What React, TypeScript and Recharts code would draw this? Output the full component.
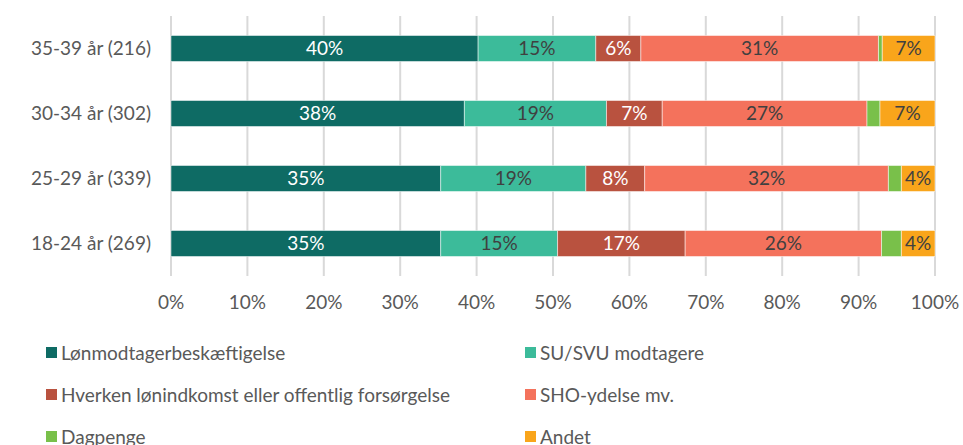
import { BarChart, Bar, XAxis, YAxis, CartesianGrid, LabelList } from "recharts"

const categories = ["35-39 år (216)", "30-34 år (302)", "25-29 år (339)", "18-24 år (269)"]
const loen = [40.2, 38.4, 35.3, 35.3]
const su = [15.4, 18.6, 19.0, 15.3]
const hverken = [5.9, 7.3, 7.7, 16.7]
const sho = [31.1, 26.8, 31.9, 25.7]
const dagpenge = [0.5, 1.7, 1.7, 2.6]
const andet = [6.9, 7.2, 4.4, 4.4]
const xTicks = [0, 10, 20, 30, 40, 50, 60, 70, 80, 90, 100]

const series = [
  { key: "loen", name: "Lønmodtagerbeskæftigelse", color: "#0E6B64", label: "#ffffff", values: loen },
  { key: "su", name: "SU/SVU modtagere", color: "#3CBB9A", label: "#404040", values: su },
  { key: "hverken", name: "Hverken lønindkomst eller offentlig forsørgelse", color: "#B9523F", label: "#ffffff", values: hverken },
  { key: "sho", name: "SHO-ydelse mv.", color: "#F4725C", label: "#404040", values: sho },
  { key: "dagpenge", name: "Dagpenge", color: "#79C04A", label: null, values: dagpenge },
  { key: "andet", name: "Andet", color: "#F9A51B", label: "#404040", values: andet },
]

const data = categories.map((c, i) => {
  const row: Record<string, string | number> = { cat: c }
  series.forEach((s) => (row[s.key] = s.values[i]))
  return row
})

const font = "Lato, 'Open Sans', sans-serif"

export default function App() {
  return (
    <div style={{ position: "absolute", left: 0, top: 0, width: 963, height: 445, background: "#fff", fontFamily: font }}>
      <BarChart
        width={963}
        height={330}
        data={data}
        layout="vertical"
        margin={{ top: 16, right: 28, left: 0, bottom: 14 }}
        barCategoryGap="30%"
      >
        <CartesianGrid horizontal={false} stroke="#D9D9D9" strokeWidth={2} />
        <XAxis
          type="number"
          domain={[0, 100]}
          ticks={xTicks}
          tickFormatter={(v: number) => `${v}%`}
          axisLine={false}
          tickLine={false}
          tickMargin={14}
          tick={{ fill: "#595959", fontSize: 19, fontFamily: font }}
          height={40}
        />
        <YAxis
          type="category"
          dataKey="cat"
          width={171}
          axisLine={false}
          tickLine={false}
          tickMargin={14}
          tick={{ fill: "#595959", fontSize: 19, fontFamily: font }}
        />
        {series.map((s) => (
          <Bar key={s.key} dataKey={s.key} stackId="a" fill={s.color} stroke="#ffffff" strokeWidth={0.5} isAnimationActive={false}>
            {s.label && (
              <LabelList
                dataKey={s.key}
                position="center"
                formatter={(v: number) => `${Math.round(v)}%`}
                fill={s.label}
                style={{ fontSize: 19, fontFamily: font }}
              />
            )}
          </Bar>
        ))}
      </BarChart>
      <div style={{ position: "absolute", left: 46, top: 340, width: 910, display: "grid", gridTemplateColumns: "479px 420px", rowGap: 18 }}>
        {series.map((s) => (
          <div key={s.key} style={{ display: "flex", alignItems: "center", height: 24, color: "#595959", fontSize: 19 }}>
            <span style={{ width: 11, height: 11, background: s.color, marginRight: 4, display: "inline-block" }} />
            {s.name}
          </div>
        ))}
      </div>
    </div>
  )
}
